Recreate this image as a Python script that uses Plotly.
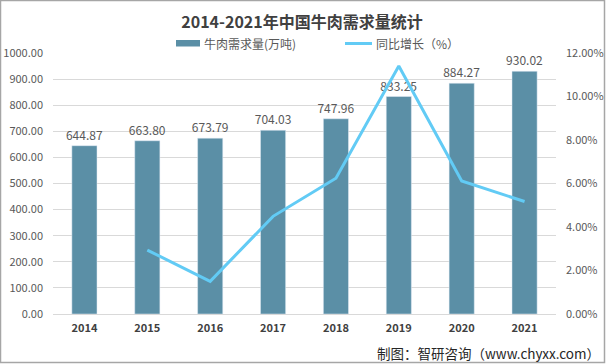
import plotly.graph_objects as go

years = ["2014", "2015", "2016", "2017", "2018", "2019", "2020", "2021"]
demand = [644.87, 663.80, 673.79, 704.03, 747.96, 833.25, 884.27, 930.02]
growth_years = ["2015", "2016", "2017", "2018", "2019", "2020", "2021"]
growth = [2.94, 1.50, 4.49, 6.24, 11.40, 6.12, 5.17]
left_ticks = [0, 100, 200, 300, 400, 500, 600, 700, 800, 900, 1000]
right_ticks = [0, 2, 4, 6, 8, 10, 12]
bar_name = "牛肉需求量(万吨)"
line_name = "同比增长（%）"

W, H = 606, 364
L, R, T, B = 53, 50, 53, 50
FONT = "Noto Sans CJK SC"
BAR_C = "#5B8FA6"
LINE_C = "#62CBF5"

fig = go.Figure()
fig.add_trace(go.Bar(
    x=years, y=demand, name=bar_name,
    marker_color=BAR_C, width=0.4,
    text=[f"{v:.2f}" for v in demand], textposition="outside",
    constraintext="none",
    textfont=dict(size=12, color="#595959", family=FONT),
    cliponaxis=False, showlegend=False,
))
fig.add_trace(go.Scatter(
    x=growth_years, y=growth, name=line_name, yaxis="y2",
    mode="lines", line=dict(color=LINE_C, width=3), showlegend=False,
))

pw = W - L - R
ph = H - T - B
def px_x(x):
    return (x - L) / pw
def px_y(y):
    return (H - B - y) / ph

shapes = [
    dict(type="rect", xref="paper", yref="paper",
         x0=px_x(0.5), x1=px_x(W - 1.5), y0=px_y(0.5), y1=px_y(H - 1.5),
         line=dict(color="#A6A6A6", width=1.5), layer="below"),
    dict(type="rect", xref="paper", yref="paper",
         x0=px_x(176), x1=px_x(200), y0=px_y(40), y1=px_y(46.5),
         fillcolor=BAR_C, line=dict(width=0)),
    dict(type="line", xref="paper", yref="paper",
         x0=px_x(345), x1=px_x(372), y0=px_y(43.5), y1=px_y(43.5),
         line=dict(color=LINE_C, width=3)),
]
annotations = [
    dict(text=bar_name, xref="paper", yref="paper", x=px_x(202), y=px_y(43.5),
         xanchor="left", yanchor="middle", showarrow=False,
         font=dict(size=12, color="#595959", family=FONT)),
    dict(text=line_name, xref="paper", yref="paper", x=px_x(374), y=px_y(43.5),
         xanchor="left", yanchor="middle", showarrow=False,
         font=dict(size=12, color="#595959", family=FONT)),
    dict(text="制图：智研咨询（www.chyxx.com）", xref="paper", yref="paper",
         x=px_x(602), y=px_y(353), xanchor="right", yanchor="middle",
         showarrow=False, font=dict(size=13.5, color="#262626", family=FONT)),
]

fig.update_layout(
    width=W, height=H,
    margin=dict(l=L, r=R, t=T, b=B, autoexpand=False),
    paper_bgcolor="white", plot_bgcolor="white",
    font=dict(family=FONT, color="#595959", size=11),
    title=dict(text="<b>2014-2021年中国牛肉需求量统计</b>", x=px_x(302), xanchor="center",
               xref="paper", y=1 - 22 / H, yanchor="middle",
               font=dict(size=16, color="#404040", family=FONT)),
    showlegend=False,
    xaxis=dict(type="category", categoryorder="array", categoryarray=years,
               showgrid=False, showline=True, linecolor="#D9D9D9", linewidth=1,
               ticks="", tickfont=dict(size=11, color="#404040", family=FONT),
               tickprefix="<b>", ticksuffix="</b>", automargin=False,
               ticklabelstandoff=4),
    yaxis=dict(range=[0, 1000], tickvals=left_ticks,
               ticktext=[f"{v:.2f}" for v in left_ticks],
               showgrid=True, gridcolor="#D9D9D9", gridwidth=1, zeroline=False,
               tickfont=dict(size=11, color="#595959", family=FONT), ticks="",
               ticklabelstandoff=9, automargin=False),
    yaxis2=dict(range=[0, 12], tickvals=right_ticks,
                ticktext=[f"{v:.2f}%" for v in right_ticks],
                overlaying="y", side="right", showgrid=False, zeroline=False,
                tickfont=dict(size=11, color="#595959", family=FONT), ticks="",
                ticklabelstandoff=9, automargin=False),
    shapes=shapes,
    annotations=annotations,
)

fig.write_html("out.html", config={"displayModeBar": False},
               post_script="document.body.style.margin='0';document.body.style.overflow='hidden';")
